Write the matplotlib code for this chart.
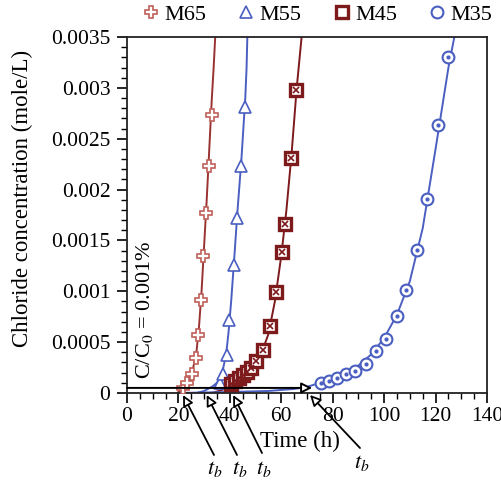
import numpy as np
import matplotlib
matplotlib.use("Agg")
import matplotlib.pyplot as plt
from matplotlib.lines import Line2D

plt.rcParams['font.family'] = ['Liberation Serif', 'DejaVu Serif']
plt.rcParams['mathtext.fontset'] = 'stix'

# Measured chloride concentration (mole/L) versus time (h)
m65_t = [21.8, 23.5, 25.2, 26.8, 27.7, 28.7, 29.7, 30.7, 31.9, 32.9]
m65_c = [0.00005, 0.0001, 0.00019, 0.00034, 0.00057, 0.00091, 0.00135, 0.00177, 0.00223, 0.00273]

m55_t = [36.2, 37.2, 39.0, 39.8, 41.8, 42.9, 44.5, 46.0]
m55_c = [0.0001, 0.00019, 0.00037, 0.00072, 0.00126, 0.00172, 0.00223, 0.00281]

m45_t = [40.5, 42.0, 43.5, 45.0, 46.5, 48.2, 50.3, 52.8, 55.6, 58.0, 60.3, 61.4, 63.8, 65.8]
m45_c = [0.00009, 0.00012, 0.00015, 0.00018, 0.00021, 0.00025, 0.00031, 0.00042, 0.00066,
         0.00099, 0.00139, 0.00166, 0.00231, 0.00298]

m35_t = [75.5, 78.7, 81.8, 85.0, 88.5, 92.8, 96.8, 100.9, 104.9, 108.5, 112.7, 116.7, 120.8, 124.7]
m35_c = [0.0001, 0.00012, 0.00015, 0.00019, 0.00022, 0.00029, 0.00041, 0.00053, 0.00076,
         0.00101, 0.00141, 0.00191, 0.00263, 0.0033]

# Model curves
m65_fit_t = [19.5, 21.5, 23.5, 25.5, 27.0, 28.0, 29.0, 30.0, 31.0, 32.0, 33.0, 33.7, 34.3]
m65_fit_c = [0.0, 0.00004, 0.00011, 0.00022, 0.0004, 0.00065, 0.001, 0.00145, 0.0019, 0.0024,
             0.0029, 0.0032, 0.0035]

m55_fit_t = [27.0, 30.0, 33.0, 35.0, 37.0, 38.5, 39.5, 40.5, 41.5, 43.0, 44.5, 46.0, 46.5, 46.8]
m55_fit_c = [0.0, 0.00002, 0.00006, 0.0001, 0.0002, 0.00037, 0.0006, 0.0009, 0.00125, 0.0018,
             0.0023, 0.0029, 0.0032, 0.0035]

m45_fit_t = [33.0, 37.0, 40.0, 43.0, 46.0, 49.0, 52.0, 55.0, 57.5, 60.0, 62.0, 64.0, 66.0, 67.9]
m45_fit_c = [0.0, 0.00003, 0.00008, 0.00013, 0.0002, 0.00027, 0.00037, 0.00058, 0.0009, 0.00135,
             0.0018, 0.00235, 0.003, 0.0035]

m35_fit_t = [20.0, 40.0, 55.0, 65.0, 70.0, 75.0, 80.0, 85.0, 90.0, 95.0, 100.0, 105.0, 110.0,
             115.0, 120.0, 125.0, 127.3]
m35_fit_c = [0.0, 0.00001, 0.00002, 0.00004, 0.00006, 0.0001, 0.00015, 0.0002, 0.00027, 0.00038,
             0.00054, 0.00077, 0.0011, 0.00162, 0.0024, 0.0032, 0.0035]

threshold = 0.00005
tb_times = [21.8, 31.0, 41.3, 71.2]

red_dark = '#7d1a1c'
red_line = '#9a3232'
red_light = '#c0605a'
blue = '#4a5fc0'

fig = plt.figure(figsize=(5.02, 4.82), dpi=100)
ax = fig.add_axes([127 / 502, 1 - 393 / 482, 360 / 502, 356 / 482])

ax.plot(m65_fit_t, m65_fit_c, color=red_line, lw=1.4, zorder=2)
ax.plot(m55_fit_t, m55_fit_c, color=blue, lw=1.4, zorder=2)
ax.plot(m45_fit_t, m45_fit_c, color=red_dark, lw=1.4, zorder=2)
ax.plot(m35_fit_t, m35_fit_c, color=blue, lw=1.4, zorder=2)

ms = 8.5
ax.plot(m65_t, m65_c, ls='none', marker='P', ms=ms, mfc='white', mec=red_light, mew=1.2, zorder=3)
ax.plot(m55_t, m55_c, ls='none', marker='^', ms=ms, mfc='white', mec=blue, mew=1.2, zorder=3)
ax.plot(m45_t, m45_c, ls='none', marker='s', ms=8, mfc='white', mec=red_dark, mew=2.4, zorder=3)
ax.plot(m45_t, m45_c, ls='none', marker='x', ms=4.5, mec=red_dark, mew=1.2, zorder=4)
ax.plot(m35_t, m35_c, ls='none', marker='o', ms=ms, mfc='white', mec=blue, mew=1.5, zorder=3)
ax.plot(m35_t, m35_c, ls='none', marker='o', ms=2.0, mfc=blue, mec=blue, zorder=4)

# Threshold line C/C0 = 0.001 %
ax.annotate('', xy=(72, threshold), xytext=(0, threshold),
            arrowprops=dict(arrowstyle='-|>', fc='white', ec='black', lw=1.4,
                            mutation_scale=16, shrinkA=0, shrinkB=0), zorder=5)
ax.text(7.0, 0.00082, r'C/C$_0$ = 0.001%', rotation=90, ha='center', va='center', fontsize=16)

# Breakthrough time arrows
tail_px = [(214, 455), (237, 455), (262, 453), (360, 448)]
label_px = [(215, 469), (240, 469), (264, 469), (362, 463)]
for tb, (tx, ty), (lx, ly) in zip(tb_times, tail_px, label_px):
    ax.annotate('', xy=(tb, -0.00002), xycoords='data',
                xytext=(tx, 482 - ty), textcoords='figure pixels',
                arrowprops=dict(arrowstyle='-|>', fc='white', ec='black', lw=1.3,
                                mutation_scale=16, shrinkA=0, shrinkB=0),
                annotation_clip=False, zorder=6)
    fig.text(lx / 502, 1 - ly / 482, r'$t_b$', ha='center', va='center', fontsize=16)

ax.set_xlim(0, 140)
ax.set_ylim(0, 0.0035)
ax.set_xticks(np.arange(0, 141, 20))
ax.set_xticks(np.arange(0, 141, 5), minor=True)
ax.set_yticks(np.arange(0, 0.00351, 0.0005))
ax.set_yticks(np.arange(0, 0.00351, 0.0001), minor=True)
ax.set_yticklabels(['0', '0.0005', '0.001', '0.0015', '0.002', '0.0025', '0.003', '0.0035'])
ax.tick_params(axis='both', which='major', direction='out', length=7, width=1.2, labelsize=15.5)
ax.tick_params(axis='y', which='major', pad=5)
ax.tick_params(axis='x', which='major', pad=3)
ax.tick_params(axis='both', which='minor', direction='out', length=4, width=1.0)
for s in ax.spines.values():
    s.set_linewidth(1.3)
    s.set_color('#222222')

ax.set_xlabel('Time (h)', fontsize=16.5)
ax.xaxis.set_label_coords((300 - 127) / 360, (393 - 431) / 356)
ax.set_ylabel('Chloride concentration (mole/L)', fontsize=16.5)
ax.yaxis.set_label_coords((33 - 127) / 360, (393 - 198) / 356)

handles = [
    Line2D([], [], ls='none', marker='P', ms=ms, mfc='white', mec=red_light, mew=1.2),
    Line2D([], [], ls='none', marker='^', ms=ms, mfc='white', mec=blue, mew=1.2),
    Line2D([], [], ls='none', marker='s', ms=8, mfc='white', mec=red_dark, mew=2.4),
    Line2D([], [], ls='none', marker='o', ms=ms, mfc='white', mec=blue, mew=1.5),
]
fig.legend(handles, ['M65', 'M55', 'M45', 'M35'], loc='center', ncol=4,
           bbox_to_anchor=(316 / 502, 1 - 15 / 482), frameon=False, fontsize=16,
           handletextpad=0.1, columnspacing=1.3, handlelength=1.0, borderpad=0)

fig.savefig('out.png', dpi=100)
